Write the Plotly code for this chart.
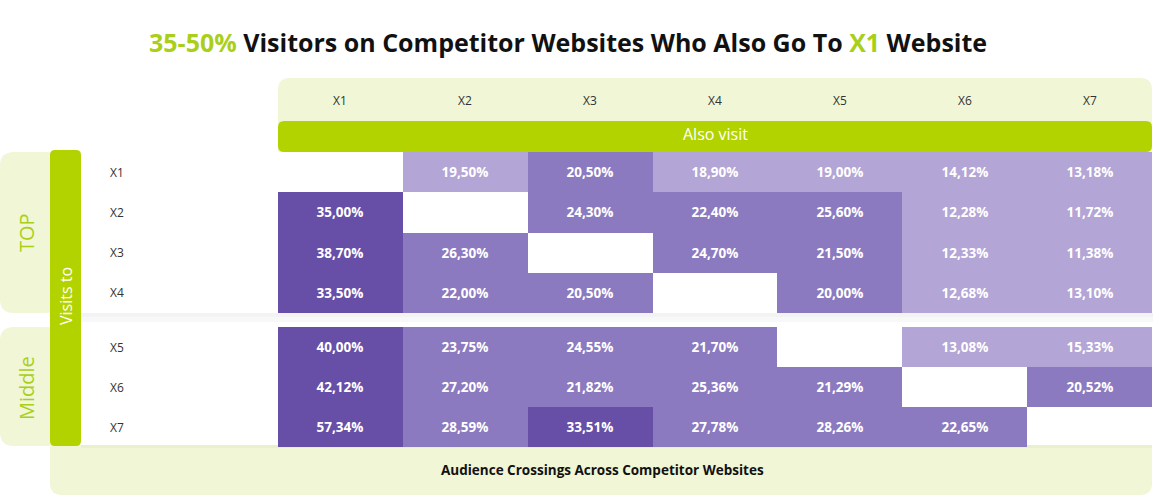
import plotly.graph_objects as go

W, H = 1154, 496

# ---------------- data ----------------
sites = ["X1", "X2", "X3", "X4", "X5", "X6", "X7"]
top_rows = ["X1", "X2", "X3", "X4"]
middle_rows = ["X5", "X6", "X7"]

row_x1 = [None, 19.50, 20.50, 18.90, 19.00, 14.12, 13.18]
row_x2 = [35.00, None, 24.30, 22.40, 25.60, 12.28, 11.72]
row_x3 = [38.70, 26.30, None, 24.70, 21.50, 12.33, 11.38]
row_x4 = [33.50, 22.00, 20.50, None, 20.00, 12.68, 13.10]
row_x5 = [40.00, 23.75, 24.55, 21.70, None, 13.08, 15.33]
row_x6 = [42.12, 27.20, 21.82, 25.36, 21.29, None, 20.52]
row_x7 = [57.34, 28.59, 33.51, 27.78, 28.26, 22.65, None]

top_z = [row_x1, row_x2, row_x3, row_x4]
middle_z = [row_x5, row_x6, row_x7]

title_hi1 = "35-50%"
title_mid = " Visitors on Competitor Websites Who Also Go To "
title_hi2 = "X1"
title_end = " Website"

# ---------------- style ----------------
GREEN = "#b2d300"
TITLE_GREEN = "#a9cf1a"
LIGHT_GREEN = "#f0f6d6"
LIGHT = "#b3a5d5"
MED = "#8b7abf"
DARK = "#674ea7"
FONT = "Open Sans"

colorscale = [
    [0.0, LIGHT], [0.3325, LIGHT],
    [0.333, MED], [0.49, MED],
    [0.495, DARK], [1.0, DARK],
]


def fmt(v):
    return "" if v is None else f"{v:.2f}".replace(".", ",") + "%"


def px_x(x):
    return x / W


def px_y(y):
    return 1 - y / H


def rr(x0, y0, x1, y1, r, tl=True, tr=True, br=True, bl=True):
    rx, ry = r / W, r / H
    X0, X1, Y0, Y1 = px_x(x0), px_x(x1), px_y(y0), px_y(y1)
    a = (rx if tl else 0, ry if tl else 0)
    b = (rx if tr else 0, ry if tr else 0)
    c = (rx if br else 0, ry if br else 0)
    d = (rx if bl else 0, ry if bl else 0)
    p = f"M {X0 + a[0]},{Y0} L {X1 - b[0]},{Y0} Q {X1},{Y0} {X1},{Y0 - b[1]} "
    p += f"L {X1},{Y1 + c[1]} Q {X1},{Y1} {X1 - c[0]},{Y1} "
    p += f"L {X0 + d[0]},{Y1} Q {X0},{Y1} {X0},{Y1 + d[1]} "
    p += f"L {X0},{Y0 - a[1]} Q {X0},{Y0} {X0 + a[0]},{Y0} Z"
    return p


fig = go.Figure()

common = dict(
    x=sites, colorscale=colorscale, zmin=0, zmax=60, showscale=False,
    texttemplate="%{text}", hoverinfo="skip",
    textfont=dict(family=FONT, size=13.5, color="white", weight="bold"),
)
fig.add_trace(go.Heatmap(z=top_z, y=top_rows, text=[[fmt(v) for v in r] for r in top_z],
                         xaxis="x", yaxis="y", **common))
fig.add_trace(go.Heatmap(z=middle_z, y=middle_rows, text=[[fmt(v) for v in r] for r in middle_z],
                         xaxis="x", yaxis="y2", **common))

ax_hidden = dict(showgrid=False, zeroline=False, showticklabels=False, ticks="", showline=False)
fig.update_layout(
    width=W, height=H, margin=dict(l=0, r=0, t=0, b=0),
    paper_bgcolor="white", plot_bgcolor="rgba(0,0,0,0)",
    xaxis=dict(domain=[px_x(278), px_x(1152)], anchor="y2", **ax_hidden),
    yaxis=dict(domain=[px_y(313), px_y(152)], autorange="reversed", **ax_hidden),
    yaxis2=dict(domain=[px_y(447), px_y(327)], autorange="reversed", **ax_hidden),
    showlegend=False,
)


def rect(x0, y0, x1, y1, color):
    return dict(type="rect", xref="paper", yref="paper", x0=px_x(x0), x1=px_x(x1),
                y0=px_y(y1), y1=px_y(y0), fillcolor=color, line_width=0, layer="below")


def rpath(p, color):
    return dict(type="path", path=p, xref="paper", yref="paper",
                fillcolor=color, line_width=0, layer="below")


shapes = [
    rect(81, 313, 1153, 317, "#f3f3f3"),
    rect(81, 317, 1153, 322, "#f8f8f8"),
    rpath(rr(0, 152, 60, 313, 14), LIGHT_GREEN),
    rpath(rr(0, 327, 60, 446, 14), LIGHT_GREEN),
    rpath(rr(50, 445, 1152, 495, 12, tl=False, tr=False), LIGHT_GREEN),
    rect(81, 445, 1152, 448, "#e9f0cc"),
    rpath(rr(50, 150, 81, 446, 5), GREEN),
    rpath(rr(278, 78, 1152, 152, 12, bl=False, br=False), LIGHT_GREEN),
    rpath(rr(278, 121, 1152, 152, 6), GREEN),
]
fig.update_layout(shapes=shapes)

ann = []


def add_ann(**kw):
    kw.setdefault("showarrow", False)
    kw.setdefault("xanchor", "center")
    kw.setdefault("yanchor", "middle")
    ann.append(kw)


add_ann(text=f"<b><span style='color:{TITLE_GREEN}'>{title_hi1}</span>{title_mid}"
             f"<span style='color:{TITLE_GREEN}'>{title_hi2}</span>{title_end}</b>",
        x=px_x(568), y=px_y(42), xref="paper", yref="paper",
        font=dict(family=FONT, size=25, color="#111111"))
for s in sites:
    add_ann(text=s, x=s, xref="x", y=px_y(100), yref="paper",
            font=dict(family=FONT, size=12, color="#333333"))
add_ann(text="Also visit", x=px_x(715), y=px_y(134), xref="paper", yref="paper",
        font=dict(family=FONT, size=16, color="white"))
for r in top_rows:
    add_ann(text=r, x=px_x(108), xref="paper", y=r, yref="y", xanchor="left",
            font=dict(family=FONT, size=12, color="#333333"))
for r in middle_rows:
    add_ann(text=r, x=px_x(108), xref="paper", y=r, yref="y2", xanchor="left",
            font=dict(family=FONT, size=12, color="#333333"))
add_ann(text="TOP", x=px_x(26), y=px_y(233), xref="paper", yref="paper", textangle=-90,
        font=dict(family=FONT, size=20, color=TITLE_GREEN))
add_ann(text="Middle", x=px_x(26), y=px_y(388), xref="paper", yref="paper", textangle=-90,
        font=dict(family=FONT, size=20, color=TITLE_GREEN))
add_ann(text="Visits to", x=px_x(66), y=px_y(296), xref="paper", yref="paper", textangle=-90,
        font=dict(family=FONT, size=16, color="white"))
add_ann(text="<b>Audience Crossings Across Competitor Websites</b>", x=px_x(602), y=px_y(470),
        xref="paper", yref="paper", font=dict(family=FONT, size=13.5, color="#111111"))
fig.update_layout(annotations=ann)

fig.write_html("out.html", config={"displayModeBar": False},
               post_script="document.body.style.margin='0';")
